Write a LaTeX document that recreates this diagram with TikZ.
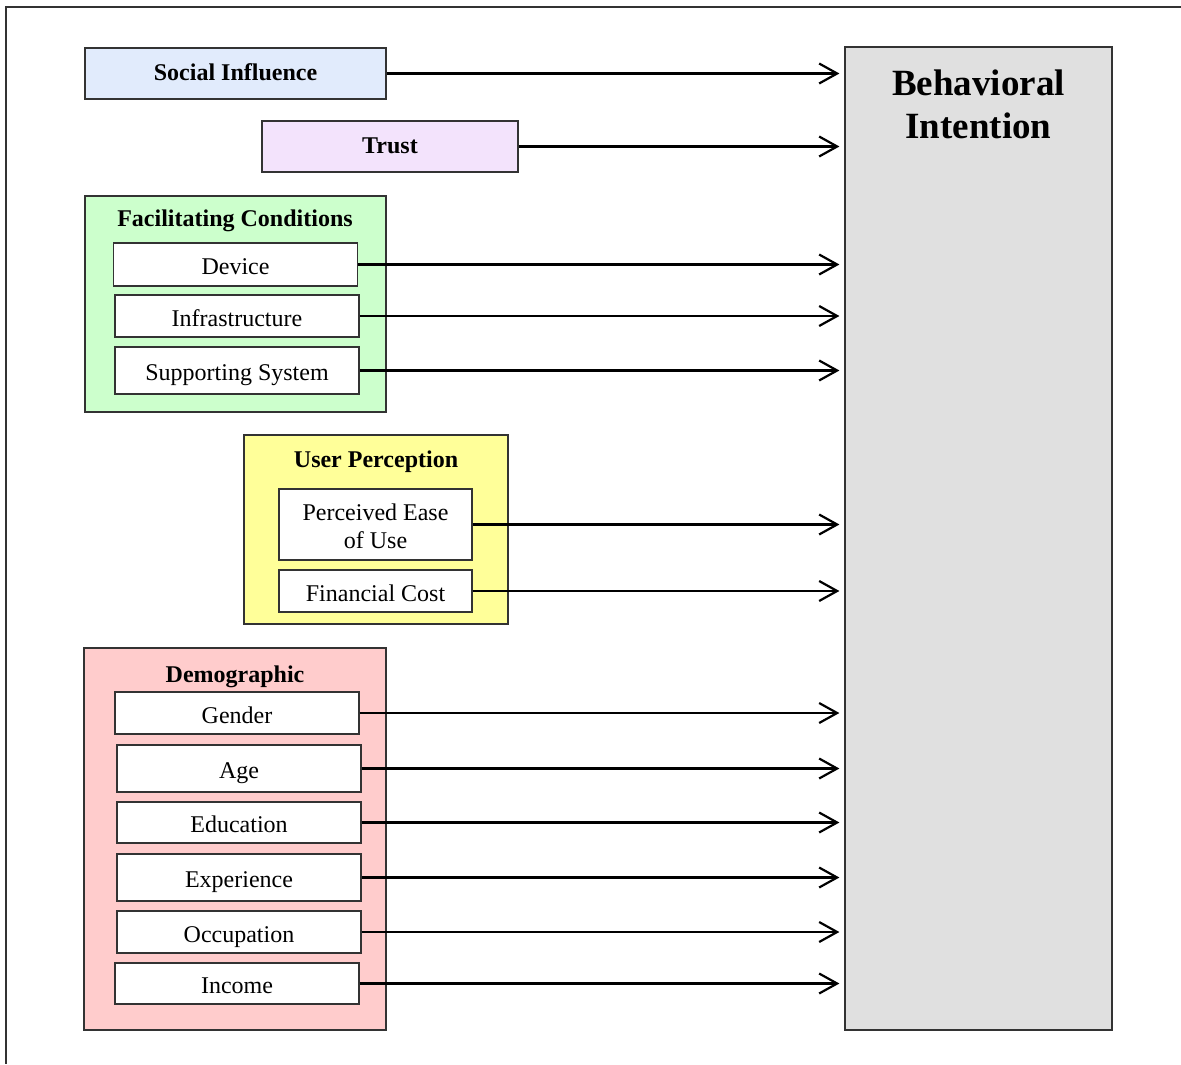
\documentclass[tikz,border=0pt]{standalone}
\usepackage{fontspec}
\setmainfont{Liberation Serif}
\usetikzlibrary{arrows.meta,positioning}
\definecolor{socialblue}{RGB}{225,235,252}
\definecolor{trustlilac}{RGB}{243,227,252}
\definecolor{facilgreen}{RGB}{204,255,204}
\definecolor{percyellow}{RGB}{255,255,153}
\definecolor{demored}{RGB}{255,204,204}
\definecolor{intentgray}{RGB}{224,224,224}
\definecolor{edgegray}{RGB}{51,51,51}

\begin{document}
\begin{tikzpicture}
[x=0.5pt,y=-0.5pt,>={Straight Barb[length=9pt,width=10pt]},
every node/.style={font=\fontsize{12}{14}\selectfont},
box/.style={draw=edgegray, line width=0.6pt, inner sep=0pt, align=center},
item/.style={box, fill=white, minimum width=122pt, minimum height=21pt, text height=10pt, text depth=0pt},
group/.style={box, font=\fontsize{12}{14}\selectfont\bfseries, text height=7pt, text depth=0pt},
heading/.style={inner sep=0pt, anchor=base, font=\fontsize{12}{14}\selectfont\bfseries},
link/.style={->, line width=1.1pt, shorten >=2.5pt}]
\useasboundingbox (0,0) rectangle (1181,1064);
\draw[edgegray, line width=0.6pt] (1181,7) -| (6,1064);

\node[box, fill=intentgray, minimum width=133.5pt, minimum height=491.5pt] (bi) at (978.5,538.5) {};
\node[anchor=north, inner sep=0pt, align=center, font=\fontsize{18.5}{21.5}\selectfont\bfseries, below=11.5pt of bi.north] (bititle) {Behavioral\\Intention};

\node[group, fill=socialblue, minimum width=150.5pt, minimum height=25.5pt] (social) at (235.5,73.5) {Social Influence};
\node[group, fill=trustlilac, minimum width=128pt, minimum height=25.5pt] (trust) at (390,146.5) {Trust};

\node[box, fill=facilgreen, minimum width=150.5pt, minimum height=108pt] (facil) at (235.5,304) {};
\node[heading] (faciltitle) at (235,227) {Facilitating Conditions};
\node[item, minimum height=21.5pt] (device) at (235.5,264.5) {Device};
\node[item] (infra) at (237,316) {Infrastructure};
\node[item, minimum height=23.5pt] (support) at (237,370.5) {Supporting System};

\node[box, fill=percyellow, minimum width=132pt, minimum height=94.5pt] (percep) at (376,529.5) {};
\node[heading] (perceptitle) at (376,467) {User Perception};
\node[box, fill=white, minimum width=96.5pt, minimum height=35.5pt] (ease) at (375.5,524.5) {};
\node[anchor=base, inner sep=0pt, align=center] (easetext) at (375.5,548) {Perceived Ease\\of Use};
\node[item, minimum width=96.5pt] (cost) at (375.5,591) {Financial Cost};

\node[box, fill=demored, minimum width=151pt, minimum height=191pt] (demo) at (235,839) {};
\node[heading] (demotitle) at (235,682) {Demographic};
\node[item] (gender) at (237,713) {Gender};
\node[item, minimum height=23.5pt] (age) at (239,768.5) {Age};
\node[item, minimum height=20.5pt] (educ) at (239,822.5) {Education};
\node[item, minimum height=23.5pt] (exper) at (239,877.5) {Experience};
\node[item] (occup) at (239,932) {Occupation};
\node[item, minimum height=20.5pt] (income) at (237,983.5) {Income};

\draw[link] (social.east) -- (social.east -| bi.west);
\draw[link] (trust.east) -- (trust.east -| bi.west);
\draw[link] (device.east) -- (device.east -| bi.west);
\draw[link] (infra.east) -- (infra.east -| bi.west);
\draw[link] (support.east) -- (support.east -| bi.west);
\draw[link] (ease.east) -- (ease.east -| bi.west);
\draw[link] (cost.east) -- (cost.east -| bi.west);
\draw[link] (gender.east) -- (gender.east -| bi.west);
\draw[link] (age.east) -- (age.east -| bi.west);
\draw[link] (educ.east) -- (educ.east -| bi.west);
\draw[link] (exper.east) -- (exper.east -| bi.west);
\draw[link] (occup.east) -- (occup.east -| bi.west);
\draw[link] (income.east) -- (income.east -| bi.west);
\end{tikzpicture}
\end{document}
